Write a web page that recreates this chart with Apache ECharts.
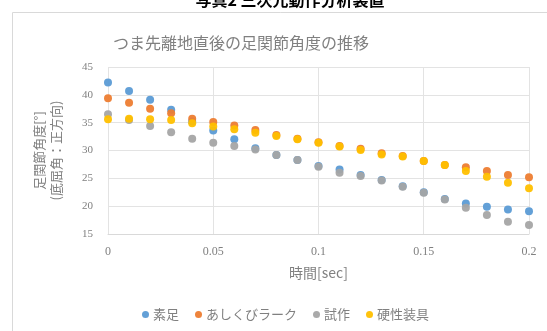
<!DOCTYPE html>
<html><head><meta charset="utf-8">
<script src="https://cdn.jsdelivr.net/npm/echarts@6/dist/echarts.min.js"></script>
<style>html,body{margin:0;padding:0;background:#fff}#c{width:547px;height:331px}</style>
</head><body><div id="c"></div>
<script>
var times = [0,0.01,0.02,0.03,0.04,0.05,0.06,0.07,0.08,0.09,0.10,0.11,0.12,0.13,0.14,0.15,0.16,0.17,0.18,0.19,0.20];
var seriesNames = ['素足','あしくびラーク','試作','硬性装具'];
var barefoot = [42.2,40.7,39.1,37.3,35.2,33.6,32.0,30.4,29.2,28.3,27.2,26.6,25.6,24.7,23.6,22.5,21.3,20.5,19.9,19.4,19.1];
var ashikubi = [39.4,38.6,37.5,36.7,35.7,35.1,34.5,33.7,32.8,32.1,31.5,30.8,30.3,29.5,29.0,28.1,27.4,27.0,26.3,25.6,25.2];
var prototype = [36.5,35.5,34.4,33.3,32.1,31.4,30.8,30.2,29.2,28.3,27.1,26.0,25.4,24.6,23.5,22.4,21.2,19.7,18.4,17.2,16.6];
var rigid = [35.6,35.7,35.6,35.5,34.9,34.3,33.8,33.2,32.6,32.0,31.4,30.7,30.1,29.3,28.9,28.1,27.4,26.3,25.3,24.2,23.2];
var colors = ['#5B9BD5','#ED7D31','#A5A5A5','#FFC000'];
var titleText = 'つま先離地直後の足関節角度の推移';
var captionText = '写真2 三次元動作分析装置';
var xName = '時間[sec]';
var yName = '足関節角度[°]\n(底屈角：正方向)';

function pairs(v){ return times.map(function(t,i){ return [t, v[i]]; }); }
var all = [barefoot, ashikubi, prototype, rigid];
var jp = '"Noto Sans CJK JP", "Noto Sans", sans-serif';
var chart = echarts.init(document.getElementById('c'));
chart.setOption({
  animation:false,
  color: colors,
  graphic:[
    {type:'rect', shape:{x:12.5,y:12.5,width:560,height:340}, style:{fill:'none',stroke:'#d9d9d9',lineWidth:1}},
    {type:'text', x:290, y:0, style:{text:captionText, font:'bold 16px '+jp, fill:'#000', textAlign:'center', textVerticalAlign:'middle'}}
  ],
  title:{text:titleText, left:236, top:30, textAlign:'center',
    textStyle:{fontFamily:jp, fontSize:16, fontWeight:'normal', color:'#808080'}},
  legend:{left:137, top:303, itemWidth:7, itemHeight:7, itemGap:16, icon:'circle',
    textStyle:{fontFamily:jp, fontSize:13, color:'#808080', padding:[0,0,0,-1]},
    data: seriesNames},
  grid:{left:108, right:18, top:67, bottom:97},
  xAxis:{type:'value', min:0, max:0.2, interval:0.05,
    name:xName, nameLocation:'middle', nameGap:32,
    nameTextStyle:{fontFamily:jp, fontSize:14, color:'#808080'},
    axisLine:{show:true, lineStyle:{color:'#d9d9d9'}}, axisTick:{show:false},
    axisLabel:{margin:12, fontFamily:'"Liberation Serif", serif', fontSize:12, color:'#808080'},
    splitLine:{show:true, lineStyle:{color:'#e3e3e3'}}},
  yAxis:{type:'value', min:15, max:45, interval:5,
    name:yName, nameLocation:'middle', nameGap:43, nameRotate:90,
    nameTextStyle:{fontFamily:jp, fontSize:13, color:'#808080', lineHeight:17},
    axisLine:{show:false}, axisTick:{show:false},
    axisLabel:{margin:15, fontFamily:'"Liberation Serif", serif', fontSize:11, color:'#808080'},
    splitLine:{show:true, lineStyle:{color:'#e3e3e3'}}},
  series: seriesNames.map(function(n,i){
    return {name:n, type:'scatter', symbol:'circle', symbolSize:8, data:pairs(all[i]),
      itemStyle:{color:colors[i], opacity:0.95}};
  })
});
</script></body></html>
